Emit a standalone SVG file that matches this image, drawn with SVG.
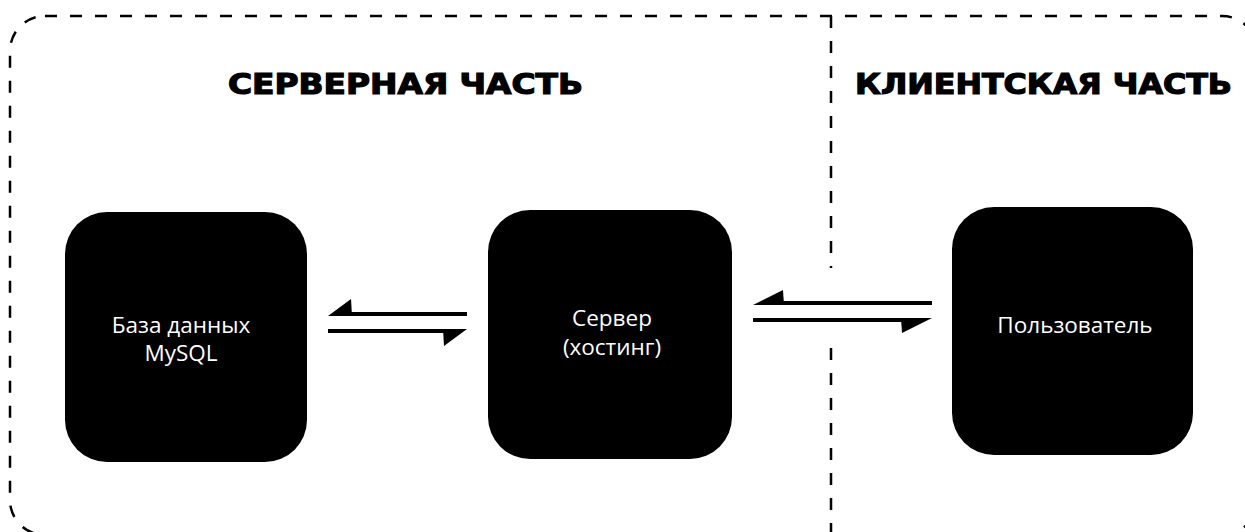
<svg xmlns="http://www.w3.org/2000/svg" width="1245" height="532" viewBox="0 0 1245 532">
<style>
.frame{fill:none;stroke:#000;stroke-width:2.5;stroke-dasharray:12 13}
.box{fill:#000}
.lbl{font-family:"Open Sans","Noto Sans",sans-serif;font-size:22.5px;fill:#fff;text-anchor:middle}
.head{font-family:"DejaVu Sans","Liberation Sans",sans-serif;font-weight:bold;font-size:28px;fill:#000;stroke:#000;stroke-width:1.2}
.ln{stroke:#000;stroke-width:4;fill:none}
</style>
<rect class="frame" x="10" y="16" width="1247" height="519" rx="35"/>
<g id="divider">
<line class="frame" x1="831" y1="16" x2="831" y2="268"/>
<line class="frame" x1="831" y1="348" x2="831" y2="535"/>
</g>
<g id="title-server"><text class="head" x="228" y="94" textLength="355" lengthAdjust="spacingAndGlyphs">СЕРВЕРНАЯ ЧАСТЬ</text></g>
<g id="title-client"><text class="head" x="855" y="94" textLength="377" lengthAdjust="spacingAndGlyphs">КЛИЕНТСКАЯ ЧАСТЬ</text></g>
<g id="node-db">
<rect class="box" x="65" y="212" width="242" height="250" rx="42"/>
<text class="lbl" x="181" y="333">База данных</text>
<text class="lbl" x="181" y="361">MySQL</text>
</g>
<g id="node-server">
<rect class="box" x="488" y="210" width="244" height="249" rx="42"/>
<text class="lbl" x="612" y="326">Сервер</text>
<text class="lbl" x="612" y="355">(хостинг)</text>
</g>
<g id="node-user">
<rect class="box" x="952" y="207" width="241" height="248" rx="42"/>
<text class="lbl" x="1075" y="333">Пользователь</text>
</g>
<g id="connectors">
<line class="ln" x1="340" y1="314" x2="467" y2="314"/>
<polygon points="328,316 351,299 352,316"/>
<line class="ln" x1="328" y1="331" x2="455" y2="331"/>
<polygon points="467,329 444,346 443,329"/>
<line class="ln" x1="765" y1="303" x2="932" y2="303"/>
<polygon points="753,305 783,290 784,305"/>
<line class="ln" x1="753" y1="320" x2="920" y2="320"/>
<polygon points="932,318 902,333 901,318"/>
</g>
</svg>
